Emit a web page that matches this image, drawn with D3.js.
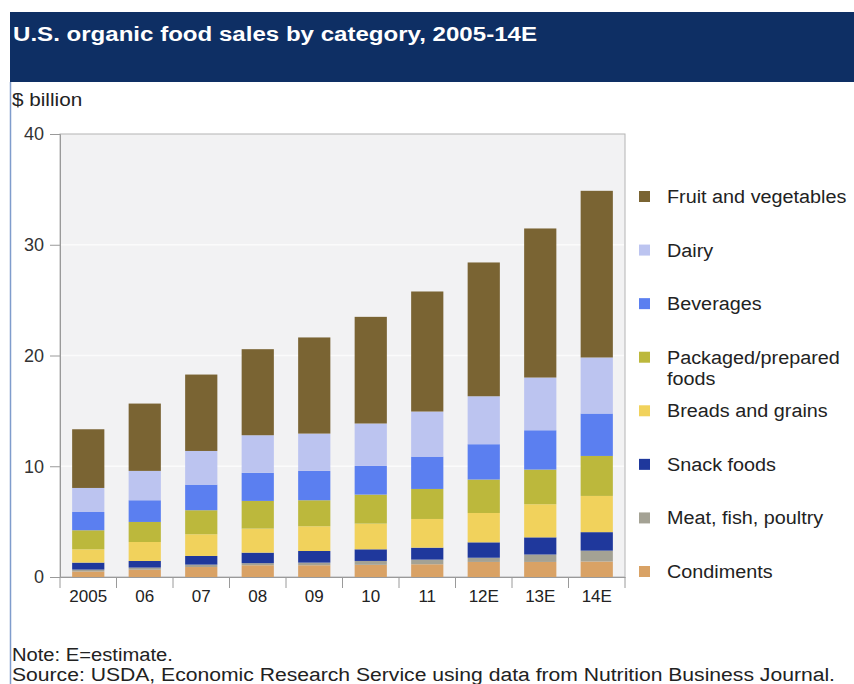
<!DOCTYPE html>
<html>
<head>
<meta charset="utf-8">
<script src="https://cdn.jsdelivr.net/npm/d3@7"></script>
<style>
  body { margin: 0; background: #fff; }
  svg { font-family: "Liberation Sans", Arial, sans-serif; }
</style>
</head>
<body>
<svg id="chart" width="854" height="684"></svg>
<script>
// years on the x axis
var years = ["2005", "06", "07", "08", "09", "10", "11", "12E", "13E", "14E"];

// series, bottom of the stack first ($ billion)
var condiments = [0.5, 0.66, 0.9, 1.06, 1.06, 1.1, 1.15, 1.36, 1.36, 1.4];
var meat       = [0.17, 0.19, 0.22, 0.19, 0.24, 0.35, 0.42, 0.38, 0.67, 0.98];
var snack      = [0.63, 0.6, 0.78, 0.95, 1.05, 1.05, 1.08, 1.39, 1.55, 1.67];
var breads     = [1.2, 1.71, 1.96, 2.17, 2.23, 2.32, 2.59, 2.65, 2.99, 3.27];
var packaged   = [1.72, 1.81, 2.17, 2.5, 2.35, 2.62, 2.71, 3.02, 3.13, 3.61];
var beverages  = [1.65, 1.96, 2.31, 2.53, 2.65, 2.59, 2.92, 3.19, 3.55, 3.83];
var dairy      = [2.17, 2.65, 3.04, 3.4, 3.37, 3.83, 4.07, 4.33, 4.76, 5.06];
var fruit      = [5.3, 6.08, 6.9, 7.77, 8.68, 9.63, 10.84, 12.08, 13.46, 15.05];

var yTicks = [0, 10, 20, 30, 40];

var series = [
    { name: "Condiments", values: condiments, color: "#d9a265" },
    { name: "Meat, fish, poultry", values: meat, color: "#a4a294" },
    { name: "Snack foods", values: snack, color: "#1f389c" },
    { name: "Breads and grains", values: breads, color: "#f1d25c" },
    { name: "Packaged/prepared foods", values: packaged, color: "#bcb83c" },
    { name: "Beverages", values: beverages, color: "#5b7ff0" },
    { name: "Dairy", values: dairy, color: "#bcc4f0" },
    { name: "Fruit and vegetables", values: fruit, color: "#7a6433" }
];

// the reference type is a little wider than Liberation Sans
function widen(sel, k) {
    sel.each(function () {
        var w = this.getComputedTextLength();
        d3.select(this)
            .attr("textLength", w * k)
            .attr("lengthAdjust", "spacingAndGlyphs");
    });
}

var svg = d3.select("#chart");

// header band
svg.append("rect")
    .attr("x", 10).attr("y", 12)
    .attr("width", 844).attr("height", 70)
    .attr("fill", "#0e2f64");
svg.append("text")
    .attr("x", 13).attr("y", 41)
    .attr("fill", "#fff")
    .attr("font-size", 20)
    .attr("font-weight", "bold")
    .attr("textLength", 524)
    .attr("lengthAdjust", "spacingAndGlyphs")
    .text("U.S. organic food sales by category, 2005-14E");

// thin frame line on the left
svg.append("line")
    .attr("x1", 10.5).attr("x2", 10.5)
    .attr("y1", 82).attr("y2", 684)
    .attr("stroke", "#7f9ccc").attr("stroke-width", 1.5);

svg.append("text")
    .attr("x", 12).attr("y", 106)
    .attr("fill", "#222")
    .attr("font-size", 18)
    .text("$ billion")
    .call(widen, 1.15);

var plotLeft = 60, plotRight = 625, plotTop = 134, plotBottom = 577;

var x = d3.scaleBand()
    .domain(years)
    .range([plotLeft, plotRight])
    .paddingInner(0.43)
    .paddingOuter(0.215);

var y = d3.scaleLinear()
    .domain([0, 40])
    .range([plotBottom, plotTop]);

// plot background
svg.append("rect")
    .attr("x", plotLeft).attr("y", plotTop)
    .attr("width", plotRight - plotLeft).attr("height", plotBottom - plotTop)
    .attr("fill", "#f2f2f3")
    .attr("stroke", "#b4b4b4");

// faint gridlines
svg.append("g")
    .selectAll("line")
    .data(yTicks.slice(1, -1))
    .enter()
    .append("line")
    .attr("x1", plotLeft + 1).attr("x2", plotRight - 1)
    .attr("y1", function (d) { return y(d); })
    .attr("y2", function (d) { return y(d); })
    .attr("stroke", "#fbfbfb")
    .attr("stroke-width", 1.5);

// stacked bars
var table = years.map(function (yr, i) {
    var row = { year: yr };
    series.forEach(function (s) { row[s.name] = s.values[i]; });
    return row;
});
var stack = d3.stack().keys(series.map(function (s) { return s.name; }));
var layers = stack(table);

svg.append("g")
    .selectAll("g")
    .data(layers)
    .enter()
    .append("g")
    .attr("fill", function (d, i) { return series[i].color; })
    .selectAll("rect")
    .data(function (d) { return d; })
    .enter()
    .append("rect")
    .attr("x", function (d) { return x(d.data.year); })
    .attr("width", x.bandwidth())
    .attr("y", function (d) { return y(d[1]); })
    .attr("height", function (d) { return y(d[0]) - y(d[1]); });

// y axis
var yAxis = svg.append("g")
    .attr("transform", "translate(" + plotLeft + ",0)")
    .call(d3.axisLeft(y).tickValues(yTicks).tickSize(10).tickPadding(6));
yAxis.select(".domain").attr("stroke", "#9a9a9a");
yAxis.selectAll(".tick line").attr("stroke", "#9a9a9a");
yAxis.selectAll("text")
    .attr("font-size", 18)
    .attr("fill", "#333")
    .attr("font-family", "Liberation Sans, Arial, sans-serif");

// x axis: category labels and separator ticks
var xAxis = svg.append("g")
    .attr("transform", "translate(0," + plotBottom + ")")
    .call(d3.axisBottom(x).tickSize(0).tickPadding(13));
xAxis.select(".domain").attr("stroke", "#9a9a9a");
xAxis.selectAll("text")
    .attr("font-size", 17)
    .attr("fill", "#222")
    .attr("font-family", "Liberation Sans, Arial, sans-serif");

var step = x.step();
svg.append("g")
    .selectAll("line")
    .data(years)
    .enter()
    .append("line")
    .attr("x1", function (d) { return x(d) - (step - x.bandwidth()) / 2; })
    .attr("x2", function (d) { return x(d) - (step - x.bandwidth()) / 2; })
    .attr("y1", plotBottom).attr("y2", plotBottom + 11)
    .attr("stroke", "#9a9a9a");
svg.append("line")
    .attr("x1", plotRight).attr("x2", plotRight)
    .attr("y1", plotBottom).attr("y2", plotBottom + 11)
    .attr("stroke", "#9a9a9a");

// legend, top entry first
var legendRows = series.slice().reverse();
var legendY = d3.scaleLinear().domain([0, 7]).range([197, 572]);

var legend = svg.append("g")
    .selectAll("g")
    .data(legendRows)
    .enter()
    .append("g")
    .attr("transform", function (d, i) { return "translate(639," + legendY(i) + ")"; });

legend.append("rect")
    .attr("x", 0).attr("y", -6)
    .attr("width", 11).attr("height", 11)
    .attr("fill", function (d) { return d.color; });

legend.each(function (d) {
    var g = d3.select(this);
    var lines = d.name === "Packaged/prepared foods" ? ["Packaged/prepared", "foods"] : [d.name];
    lines.forEach(function (ln, j) {
        g.append("text")
            .attr("x", 28).attr("y", 6 + j * 21)
            .attr("font-size", 18)
            .attr("fill", "#222")
            .text(ln)
            .call(widen, 1.1);
    });
});

// notes
svg.append("text")
    .attr("x", 12).attr("y", 661)
    .attr("font-size", 18)
    .attr("fill", "#222")
    .text("Note: E=estimate.")
    .call(widen, 1.12);
svg.append("text")
    .attr("x", 12).attr("y", 681)
    .attr("font-size", 18)
    .attr("fill", "#222")
    .attr("textLength", 823)
    .attr("lengthAdjust", "spacingAndGlyphs")
    .text("Source: USDA, Economic Research Service using data from Nutrition Business Journal.");
</script>
</body>
</html>
